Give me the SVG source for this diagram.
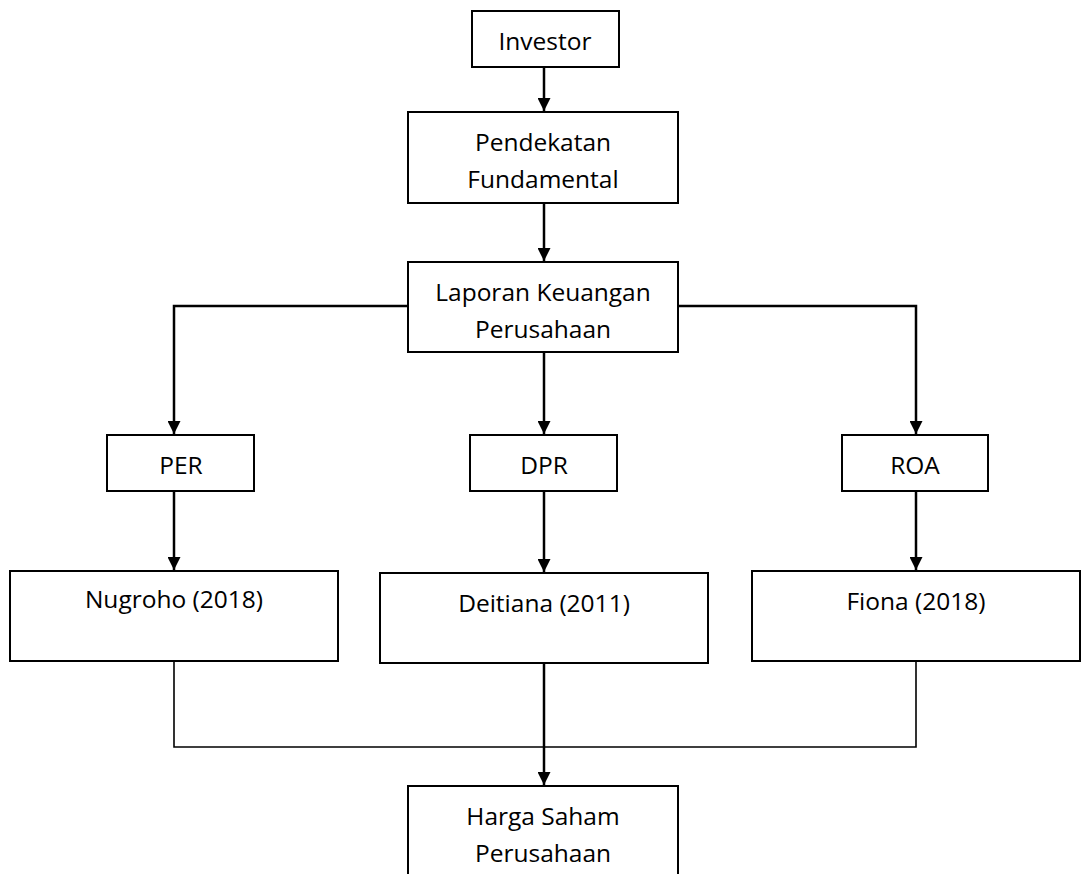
<svg xmlns="http://www.w3.org/2000/svg" width="1082" height="874" viewBox="0 0 1082 874">
<style>
.box{fill:#fff;stroke:#000;stroke-width:2}
.t{font-family:"Open Sans",sans-serif;font-size:24.5px;fill:#000;text-anchor:middle}
.arr{fill:none;stroke:#000;stroke-width:2.5}
.ln{fill:none;stroke:#000;stroke-width:1.6}
</style>
<defs>
<marker id="ah" viewBox="0 0 10 10" refX="10" refY="5" markerUnits="userSpaceOnUse" markerWidth="13" markerHeight="13" orient="auto">
<path d="M0,0 L10,5 L0,10 Z" fill="#000"/>
</marker>
</defs>
<rect width="1082" height="874" fill="#fff"/>
<g id="connectors">
<line class="arr" x1="544" y1="67" x2="544" y2="111" marker-end="url(#ah)"/>
<line class="arr" x1="544" y1="203" x2="544" y2="261" marker-end="url(#ah)"/>
<polyline class="arr" points="408,306 174,306 174,434" marker-end="url(#ah)"/>
<line class="arr" x1="544" y1="352" x2="544" y2="434" marker-end="url(#ah)"/>
<polyline class="arr" points="678,306 916,306 916,434" marker-end="url(#ah)"/>
<line class="arr" x1="174" y1="491" x2="174" y2="570" marker-end="url(#ah)"/>
<line class="arr" x1="544" y1="491" x2="544" y2="572" marker-end="url(#ah)"/>
<line class="arr" x1="916" y1="491" x2="916" y2="570" marker-end="url(#ah)"/>
<polyline class="ln" points="174,661 174,747 916,747 916,661"/>
<line class="arr" x1="544" y1="663" x2="544" y2="785" marker-end="url(#ah)"/>
</g>
<g id="investor"><rect class="box" x="472" y="11" width="147" height="56"/><text class="t" x="545" y="50">Investor</text></g>
<g id="pendekatan"><rect class="box" x="408" y="112" width="270" height="91"/><text class="t" x="543" y="151">Pendekatan</text><text class="t" x="543" y="188">Fundamental</text></g>
<g id="laporan"><rect class="box" x="408" y="262" width="270" height="90"/><text class="t" x="543" y="301">Laporan Keuangan</text><text class="t" x="543" y="338">Perusahaan</text></g>
<g id="per"><rect class="box" x="107" y="435" width="147" height="56"/><text class="t" x="181" y="474">PER</text></g>
<g id="dpr"><rect class="box" x="470" y="435" width="147" height="56"/><text class="t" x="544" y="474">DPR</text></g>
<g id="roa"><rect class="box" x="842" y="435" width="146" height="56"/><text class="t" x="915" y="474">ROA</text></g>
<g id="nugroho"><rect class="box" x="10" y="571" width="328" height="90"/><text class="t" x="174" y="608">Nugroho (2018)</text></g>
<g id="deitiana"><rect class="box" x="380" y="573" width="328" height="90"/><text class="t" x="544" y="612">Deitiana (2011)</text></g>
<g id="fiona"><rect class="box" x="752" y="571" width="328" height="90"/><text class="t" x="916" y="610">Fiona (2018)</text></g>
<g id="harga"><rect class="box" x="408" y="786" width="270" height="100"/><text class="t" x="543" y="825">Harga Saham</text><text class="t" x="543" y="862">Perusahaan</text></g>
</svg>
